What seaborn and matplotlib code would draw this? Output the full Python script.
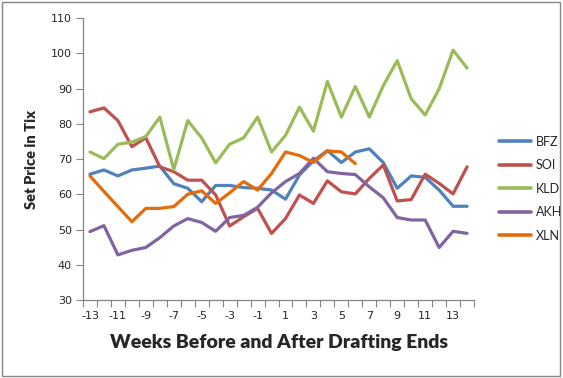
import pandas as pd
import numpy as np
import matplotlib
matplotlib.use('Agg')
import matplotlib.pyplot as plt
import seaborn as sns
from matplotlib.patches import Rectangle

# Data
weeks = list(range(-13, 15))
bfz = [65.7, 66.9, 65.2, 66.9, 67.4, 68.0, 63.0, 61.7, 57.9, 62.5, 62.5, 61.9, 61.7, 61.2,
       58.6, 65.5, 69.5, 72.4, 69.0, 72.0, 72.9, 69.0, 61.7, 65.2, 64.8, 61.2, 56.6, 56.6]
soi = [83.4, 84.5, 80.9, 73.5, 76.0, 67.8, 66.4, 64.0, 64.0, 59.8, 51.0, 53.6, 56.0, 48.9,
       53.1, 59.8, 57.4, 63.8, 60.7, 60.1, 64.5, 68.3, 58.1, 58.5, 65.7, 63.1, 60.1, 67.8]
kld = [72.0, 70.1, 74.2, 74.8, 76.4, 81.9, 67.0, 80.9, 76.0, 68.9, 74.2, 76.0, 81.9, 72.0,
       76.7, 84.7, 77.9, 92.0, 81.9, 90.6, 81.9, 90.8, 97.9, 87.1, 82.5, 89.9, 100.9, 95.8]
akh = [49.4, 51.1, 42.8, 44.1, 44.9, 47.7, 51.0, 53.1, 52.0, 49.5, 53.4, 54.0, 56.3, 60.4,
       63.6, 65.9, 70.2, 66.4, 65.9, 65.6, 62.1, 59.0, 53.4, 52.7, 52.7, 44.9, 49.5, 48.9]
xln = [65.2, 60.8, 56.5, 52.2, 56.0, 56.0, 56.5, 60.0, 61.0, 57.4, 60.4, 63.6, 61.2, 65.9,
       72.0, 71.0, 69.0, 72.3, 72.0, 68.7]

sets = ['BFZ', 'SOI', 'KLD', 'AKH', 'XLN']
colors = ['#4F81BD', '#C0504D', '#9BBB59', '#8064A2', '#E46C0A']

frames = []
for name, vals in zip(sets, [bfz, soi, kld, akh, xln]):
    frames.append(pd.DataFrame({'Week': weeks[:len(vals)], 'Price': vals, 'Set': name}))
data = pd.concat(frames, ignore_index=True)

sns.set_style('white')
plt.rcParams['font.family'] = ['DejaVu Sans']
plt.rcParams['axes.unicode_minus'] = False

fig = plt.figure(figsize=(5.63, 3.78), dpi=100)
ax = fig.add_axes([0.1474, 0.2063, 0.6946, 0.7460])

sns.lineplot(data=data, x='Week', y='Price', hue='Set', hue_order=sets,
             palette=colors, linewidth=2.3, ax=ax, legend=True)

ax.set_xlim(-13.5, 14.5)
ax.set_ylim(30, 110)
ax.set_yticks(np.arange(30, 111, 10))
ax.set_xticks(np.arange(-13, 14, 2))
ax.set_xticks(np.arange(-13.5, 14.6, 1), minor=True)
ax.tick_params(axis='x', which='major', length=0, labelsize=8, pad=8)
ax.tick_params(axis='x', which='minor', length=5, width=0.8, color='#868686', direction='out')
ax.tick_params(axis='y', length=5, width=0.8, color='#868686', direction='out', labelsize=8, pad=3)
ax.xaxis.set_tick_params(bottom=True, which='both')
ax.yaxis.set_tick_params(left=True)

for side in ['top', 'right']:
    ax.spines[side].set_visible(False)
for side in ['left', 'bottom']:
    ax.spines[side].set_color('#868686')
    ax.spines[side].set_linewidth(0.9)

ax.set_xlabel('Weeks Before and After Drafting Ends', fontsize=14, fontweight='heavy',
              family='Lato', labelpad=9)
ax.set_ylabel('Set Price in Tix', fontsize=10.5, fontweight='heavy', family='Lato', labelpad=9)

handles, labels = ax.get_legend_handles_labels()
leg = ax.legend(handles, labels, loc='center left', bbox_to_anchor=(1.035, 0.395),
                frameon=False, handlelength=2.6, labelspacing=0.92,
                handletextpad=0.35, prop={'family': 'Lato', 'size': 9})
for line in leg.get_lines():
    line.set_linewidth(2.6)

fig.patches.append(Rectangle((0.004, 0.006), 0.99, 0.988, transform=fig.transFigure,
                             fill=False, edgecolor='#868686', linewidth=1))

fig.savefig('out.png', dpi=100)
